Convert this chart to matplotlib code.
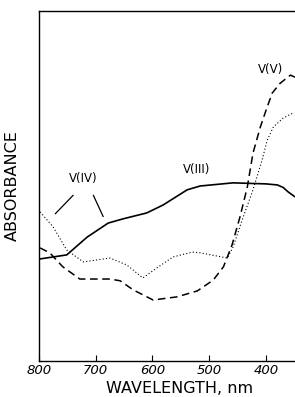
import matplotlib
matplotlib.use("Agg")
from matplotlib import pyplot as plt

# V(III) - solid
wl_3 = [800, 751, 715, 678, 652, 610, 581, 539, 516, 458, 400, 380, 370, 361, 349]
abs_3 = [0.291, 0.303, 0.354, 0.394, 0.406, 0.423, 0.446, 0.489, 0.5, 0.509, 0.506,
         0.503, 0.496, 0.483, 0.469]

# V(V) - dashed
wl_5 = [798, 781, 758, 728, 675, 657, 634, 599, 557, 521, 493, 475, 460, 446, 433,
        423, 410, 398, 389, 375, 357, 349]
abs_5 = [0.323, 0.309, 0.269, 0.234, 0.234, 0.229, 0.203, 0.174, 0.183, 0.2, 0.231,
         0.269, 0.331, 0.411, 0.497, 0.594, 0.669, 0.726, 0.766, 0.794, 0.817, 0.811]

# V(IV) - dotted
wl_4 = [798, 775, 751, 722, 675, 645, 617, 592, 564, 530, 516, 468, 458, 442, 423,
        407, 398, 387, 370, 352]
abs_4 = [0.426, 0.383, 0.317, 0.283, 0.294, 0.274, 0.237, 0.266, 0.297, 0.311, 0.309,
         0.294, 0.326, 0.403, 0.489, 0.574, 0.631, 0.669, 0.694, 0.709]

xticks = [800, 700, 600, 500, 400]

fig = plt.figure(figsize=(2.95, 3.97), dpi=100)
ax = fig.add_axes([0.132, 0.091, 0.868, 0.881])

ax.plot(wl_3, abs_3, "k-", lw=1.2)
ax.plot(wl_5, abs_5, color="k", lw=1.1, linestyle=(0, (5, 3)))
ax.plot(wl_4, abs_4, color="k", lw=0.8, linestyle=(0, (1, 2)))

ax.set_xlim(800, 349)
ax.set_ylim(0, 1)
ax.set_xticks(xticks)
ax.set_xticklabels([str(t) for t in xticks], fontstyle="italic", fontsize=9.5)
ax.tick_params(axis="x", direction="in", length=4, pad=2)
ax.set_yticks([])
ax.spines["right"].set_visible(False)
for s in ["left", "top", "bottom"]:
    ax.spines[s].set_linewidth(1.0)

ax.set_xlabel("WAVELENGTH, nm", fontsize=11.5)
ax.xaxis.set_label_coords(0.55, -0.058)
ax.set_ylabel("ABSORBANCE", fontsize=11.5)
ax.yaxis.set_label_coords(-0.075, 0.5)

# labels
ax.text(722, 0.52, "V(IV)", fontsize=8.5, ha="center", va="center")
ax.text(522, 0.547, "V(III)", fontsize=8.5, ha="center", va="center")
ax.text(392, 0.832, "V(V)", fontsize=8.5, ha="center", va="center")
ax.plot([740, 771], [0.473, 0.421], "k-", lw=0.9)
ax.plot([704, 687], [0.473, 0.413], "k-", lw=0.9)

fig.savefig("out.png", dpi=100)
